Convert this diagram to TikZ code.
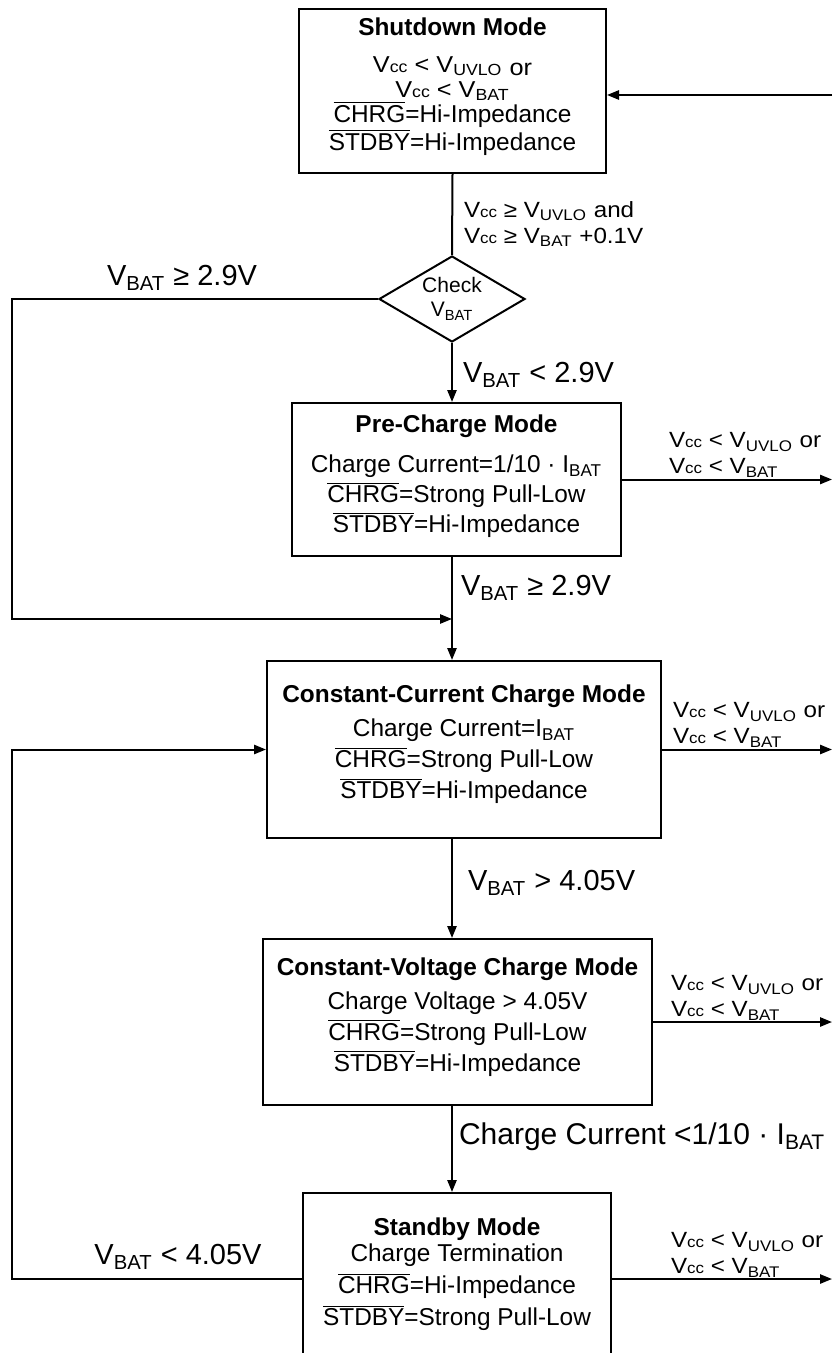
\documentclass[tikz,border=0pt]{standalone}
\usepackage{fontspec}
\setmainfont{Liberation Sans}
\newfontfamily\widesans[FakeStretch=1.1]{Liberation Sans}
\usetikzlibrary{arrows.meta,positioning,calc,shapes.geometric}

\makeatletter
\newcommand\ccsmall{$\mbox{\fontsize\sf@size\z@\selectfont cc}$}
\makeatother
\newcommand\Vcc{V\ccsmall}
\newcommand\Vsub[1]{V\textsubscript{#1}}
\newcommand\nsig[1]{$\overline{\mbox{#1}}$}
\newcommand\padlow[1]{\rule[-#1]{0pt}{0pt}}

\begin{document}
\begin{tikzpicture}[x=0.5pt,y=-0.5pt,line width=1pt,
    modebox/.style={draw,line width=1pt,fill=white,align=center,inner sep=2pt,
                    font=\fontsize{12.2}{15}\selectfont},
    sidelbl/.style={align=left,inner sep=0pt,anchor=west,
                    font=\widesans\fontsize{11}{13}\selectfont},
    biglbl/.style={inner sep=0pt,anchor=west,font=\fontsize{14.5}{17}\selectfont},
    flow/.style={-{Triangle[length=6pt,width=4.6pt]}}]

  \useasboundingbox (0,0) rectangle (832,1353);

  % mode boxes
  \node[modebox,minimum width=153.5pt,minimum height=82pt,
        font=\fontsize{12.2}{12.5}\selectfont] (sd) at (452.5,91) {
    {\bfseries Shutdown Mode}\\[6pt]
    {\widesans\fontsize{11.5}{11}\selectfont\Vcc{} < \Vsub{UVLO} \raisebox{-1.5pt}{or}}\\
    {\widesans\fontsize{11.5}{11}\selectfont\Vcc{} < \Vsub{BAT}}\\
    \nsig{CHRG}=Hi-Impedance\\
    \nsig{STDBY}=Hi-Impedance\padlow{7pt}
  };
  \node[draw,diamond,aspect=1.7,minimum width=73pt,minimum height=43pt,
        inner sep=0pt,align=center,font=\fontsize{10.5}{12}\selectfont]
        (chk) at (452,299) {Check\\\Vsub{BAT}};
  \node[modebox,minimum width=164.5pt,minimum height=76.5pt] (pre) at (456.5,479.5) {
    {\bfseries Pre-Charge Mode}\\[5pt]
    Charge Current=1/10 · I\textsubscript{BAT}\\
    \nsig{CHRG}=Strong Pull-Low\\
    \nsig{STDBY}=Hi-Impedance\padlow{5.5pt}
  };
  \node[modebox,minimum width=197pt,minimum height=88.5pt,
        font=\fontsize{12.2}{15.5}\selectfont] (cc) at (464,749.5) {
    {\bfseries Constant-Current Charge Mode}\\[1.5pt]
    Charge Current=I\textsubscript{BAT}\\
    \nsig{CHRG}=Strong Pull-Low\\
    \nsig{STDBY}=Hi-Impedance\padlow{7.5pt}
  };
  \node[modebox,minimum width=194.5pt,minimum height=83pt,
        font=\fontsize{12.2}{15.5}\selectfont] (cv) at (457.5,1022) {
    {\bfseries Constant-Voltage Charge Mode}\\[1.5pt]
    Charge Voltage > 4.05V\\
    \nsig{CHRG}=Strong Pull-Low\\
    \nsig{STDBY}=Hi-Impedance\padlow{7.5pt}
  };
  \node[modebox,minimum width=154pt,minimum height=86pt,
        font=\fontsize{12.2}{16}\selectfont] (sb) at (457,1279) {
    {\bfseries Standby Mode}\\[-3pt]
    Charge Termination\\
    \nsig{CHRG}=Hi-Impedance\\
    \nsig{STDBY}=Strong Pull-Low\padlow{7pt}
  };

  % turning points
  \coordinate (jn) at (452,619);
  \coordinate (ltop) at (12,299);
  \coordinate (rin) at (832,95);

  % main flow
  \draw (sd.south) -- (chk.north);
  \draw[flow] (chk.south) -- (chk.south |- pre.north);
  \draw[flow] (chk.south |- pre.south) -- (chk.south |- cc.north);
  \draw[flow] (chk.south |- cc.south) -- (chk.south |- cv.north);
  \draw[flow] (chk.south |- cv.south) -- (chk.south |- sb.north);

  % loops on the left
  \draw[flow] (chk.west) -- (ltop) -- (ltop |- jn) -- (jn);
  \draw[flow] (sb.west) -- (sb.west -| ltop) -- (cc.west -| ltop) -- (cc.west);

  % exits on the right
  \draw[flow] (rin) -- (rin -| sd.east);
  \draw[flow] (pre.east) -- (pre.east -| rin);
  \draw[flow] (cc.east) -- (cc.east -| rin);
  \draw[flow] (cv.east) -- (cv.east -| rin);
  \draw[flow] (sb.east) -- (sb.east -| rin);

  % conditions
  \node[sidelbl] (lsd) at (463,224) {\Vcc{} ≥ \Vsub{UVLO} and\\\Vcc{} ≥ \Vsub{BAT} +0.1V};
  \node[biglbl] (lchk) at (462,375) {\Vsub{BAT} < 2.9V};
  \node[biglbl,anchor=center] (lret1) at (182,278) {\Vsub{BAT} ≥ 2.9V};
  \node[biglbl] (lpre) at (460,588) {\Vsub{BAT} ≥ 2.9V};
  \node[biglbl] (lcc) at (467,883) {\Vsub{BAT} > 4.05V};
  \node[biglbl,font=\fontsize{15}{17}\selectfont] (lcv) at (458,1137)
       {Charge Current <1/10 · I\textsubscript{BAT}};
  \node[biglbl,anchor=center] (lret2) at (178,1257) {\Vsub{BAT} < 4.05V};

  \node[sidelbl] (xpre) at (668,455) {\Vcc{} < \Vsub{UVLO} or\\\Vcc{} < \Vsub{BAT}};
  \node[sidelbl] (xcc) at (672,725) {\Vcc{} < \Vsub{UVLO} or\\\Vcc{} < \Vsub{BAT}};
  \node[sidelbl] (xcv) at (670,998) {\Vcc{} < \Vsub{UVLO} or\\\Vcc{} < \Vsub{BAT}};
  \node[sidelbl] (xsb) at (670,1255) {\Vcc{} < \Vsub{UVLO} or\\\Vcc{} < \Vsub{BAT}};
\end{tikzpicture}
\end{document}
